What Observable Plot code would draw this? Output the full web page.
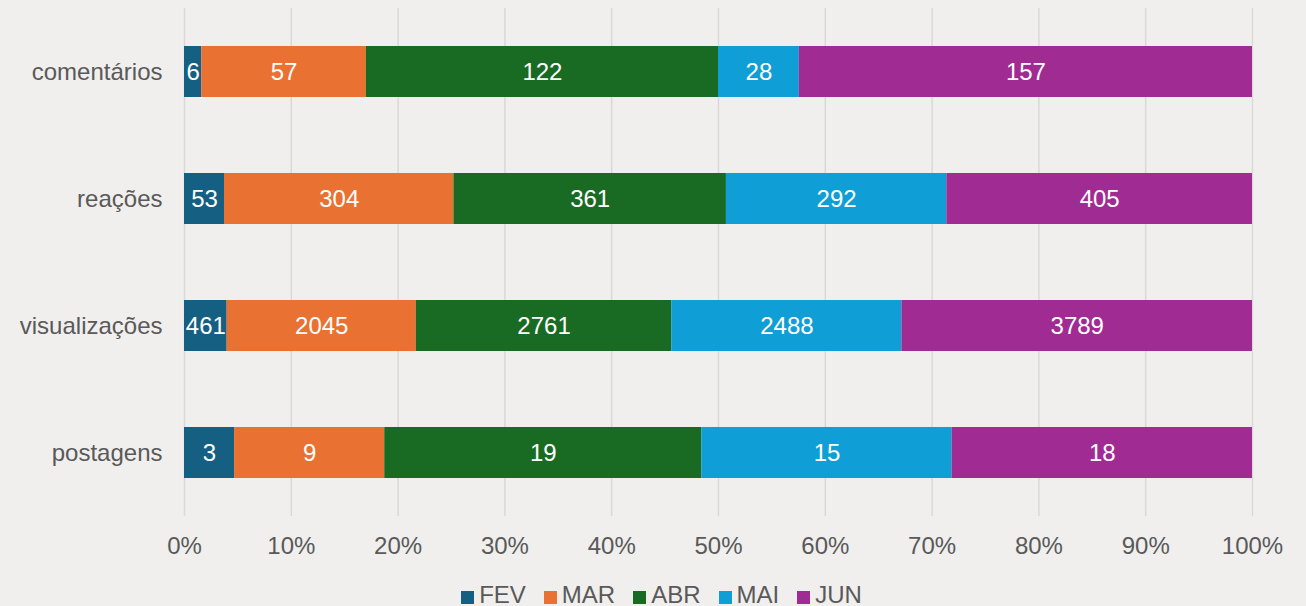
<!DOCTYPE html>
<html>
<head>
<meta charset="utf-8">
<script src="https://cdn.jsdelivr.net/npm/d3@7"></script>
<script src="https://cdn.jsdelivr.net/npm/@observablehq/plot@0.6"></script>
<style>
  html, body { margin: 0; padding: 0; background: #f0efee; }
  body { width: 1306px; height: 606px; overflow: hidden; font-family: "Liberation Sans", Arial, sans-serif; }
  #legend { display: flex; justify-content: center; align-items: center; line-height: 24px; font-size: 24px; color: #595959; margin-top: 1px; padding-left: 17px; }
  #legend .item { display: flex; align-items: center; margin-right: 18px; }
  #legend .item:last-child { margin-right: 0; }
  #legend .sw { width: 13px; height: 13px; margin-right: 5px; margin-top: 4px; }
</style>
</head>
<body>
<div id="chart"></div>
<div id="legend"></div>
<script>
const categories = ["comentários", "reações", "visualizações", "postagens"];
const months = ["FEV", "MAR", "ABR", "MAI", "JUN"];
const colors = ["#156082", "#e97132", "#196b24", "#0f9ed5", "#a02b93"];
const comentarios = [6, 57, 122, 28, 157];
const reacoes = [53, 304, 361, 292, 405];
const visualizacoes = [461, 2045, 2761, 2488, 3789];
const postagens = [3, 9, 19, 15, 18];
const xTicks = [0, 0.1, 0.2, 0.3, 0.4, 0.5, 0.6, 0.7, 0.8, 0.9, 1];

const seriesByCat = [comentarios, reacoes, visualizacoes, postagens];
const data = [];
categories.forEach((c, i) => {
  months.forEach((m, j) => data.push({cat: c, month: m, value: seriesByCat[i][j]}));
});

const fmt = d3.format(".0%");
const chart = Plot.plot({
  width: 1306,
  height: 582,
  marginLeft: 184,
  marginRight: 54,
  marginTop: 8,
  marginBottom: 66,
  style: {background: "#f0efee", color: "#595959", fontSize: "24px", fontFamily: "'Liberation Sans', Arial, sans-serif"},
  x: {domain: [0, 1], ticks: xTicks, tickFormat: fmt},
  y: {domain: categories, paddingInner: 0.6, paddingOuter: 0.3},
  color: {domain: months, range: colors},
  marks: [
    Plot.gridX(xTicks, {stroke: "#d9d9d9", strokeOpacity: 1, strokeWidth: 1.5}),
    Plot.barX(data, Plot.stackX({x: "value", y: "cat", z: "month", fill: "month", offset: "normalize"})),
    Plot.textX(data, Plot.stackX({x: "value", y: "cat", z: "month", offset: "normalize", text: d => String(d.value), fill: "white", fontSize: 24})),
    Plot.axisX(xTicks, {tickSize: 0, tickPadding: 20, tickFormat: fmt, fontSize: 24, label: null}),
    Plot.axisY({tickSize: 0, tickPadding: 22, fontSize: 24, label: null})
  ]
});
document.getElementById("chart").appendChild(chart);

const legend = document.getElementById("legend");
months.forEach((m, i) => {
  const item = document.createElement("div");
  item.className = "item";
  const sw = document.createElement("span");
  sw.className = "sw";
  sw.style.background = colors[i];
  const t = document.createElement("span");
  t.textContent = m;
  item.appendChild(sw);
  item.appendChild(t);
  legend.appendChild(item);
});
</script>
</body>
</html>
